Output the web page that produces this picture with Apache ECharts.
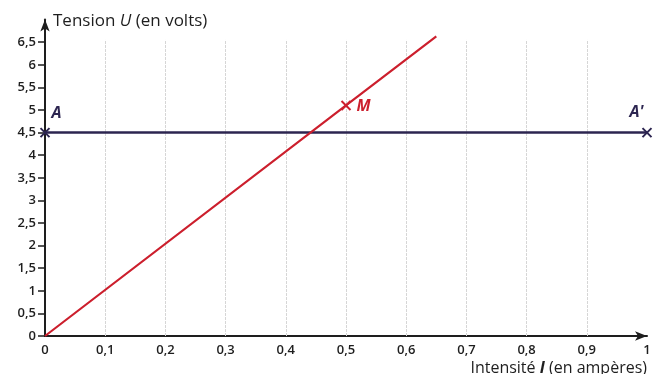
<!DOCTYPE html>
<html>
<head>
<meta charset="utf-8">
<script src="https://cdn.jsdelivr.net/npm/echarts@6/dist/echarts.min.js"></script>
<style>
  html, body { margin: 0; padding: 0; background: #ffffff; }
  #chart { width: 653px; height: 374px; }
</style>
</head>
<body>
<div id="chart"></div>
<script>
// Axis ticks (U in volts, I in amperes)
const uTicks = [0, 0.5, 1, 1.5, 2, 2.5, 3, 3.5, 4, 4.5, 5, 5.5, 6, 6.5];
const iTicks = [0, 0.1, 0.2, 0.3, 0.4, 0.5, 0.6, 0.7, 0.8, 0.9, 1];

// Characteristic of the dipole: U = f(I), straight line through the origin
const lineI = [0, 0.5, 0.65];
const lineU = [0, 5.1, 6.63];

// Horizontal line AA' at U = 4.5 V
const flatI = [0, 1];
const flatU = [4.5, 4.5];

// Named points
const pointNames = ['A', "A'", 'M'];
const pointI = [0, 1, 0.5];
const pointU = [4.5, 4.5, 5.1];

// Vertical guide lines stop a little above the last graduation
const guideTopU = 6.55;

const RED = '#cc1f2d';
const NAVY = '#2c2550';
const INK = '#1e1e1e';
const FONT = 'Open Sans';

const fmt = v => String(v).replace('.', ',');

const chart = echarts.init(document.getElementById('chart'), null, { renderer: 'canvas' });

chart.setOption({
  backgroundColor: '#ffffff',
  animation: false,
  grid: { left: 45, right: 6, top: 19.6, bottom: 38, containLabel: false, outerBoundsMode: 'none' },
  xAxis: {
    type: 'value',
    min: 0,
    max: 1,
    interval: 0.1,
    name: '{n|Intensité }{b|I}{n| (en ampères)}',
    nameLocation: 'end',
    nameGap: 0,
    nameMoveOverlap: false,
    nameTextStyle: {
      align: 'right',
      verticalAlign: 'top',
      padding: [24, 0, 0, 0],
      rich: {
        n: { fontFamily: FONT, fontSize: 16, color: INK, fontWeight: 500 },
        b: { fontFamily: FONT, fontSize: 16, color: INK, fontWeight: 'bold', fontStyle: 'italic' }
      }
    },
    axisLine: {
      show: true,
      lineStyle: { color: INK, width: 2 },
      symbol: ['none', 'arrow'],
      symbolSize: [7, 12],
      symbolOffset: [0, 0]
    },
    axisTick: { show: false },
    axisLabel: {
      customValues: iTicks,
      formatter: fmt,
      fontFamily: FONT,
      fontSize: 13,
      fontWeight: 600,
      color: INK,
      margin: 8
    },
    splitLine: { show: false }
  },
  yAxis: {
    type: 'value',
    min: 0,
    max: 7,
    interval: 0.5,
    name: '{n|Tension }{i|U}{n| (en volts)}',
    nameLocation: 'end',
    nameGap: -2,
    nameMoveOverlap: false,
    nameTextStyle: {
      align: 'left',
      verticalAlign: 'middle',
      padding: [0, 0, 0, 8],
      rich: {
        n: { fontFamily: FONT, fontSize: 17, color: INK, fontWeight: 500 },
        i: { fontFamily: FONT, fontSize: 17, color: INK, fontWeight: 500, fontStyle: 'italic' }
      }
    },
    axisLine: {
      show: true,
      lineStyle: { color: INK, width: 2 },
      symbol: ['none', 'arrow'],
      symbolSize: [7, 12]
    },
    axisTick: {
      show: true,
      customValues: uTicks,
      length: 7,
      lineStyle: { color: INK, width: 1.5 }
    },
    axisLabel: {
      customValues: uTicks,
      formatter: fmt,
      fontFamily: FONT,
      fontSize: 13,
      fontWeight: 600,
      color: INK,
      margin: 9
    },
    splitLine: { show: false }
  },
  series: [
    {
      name: 'AA\'',
      type: 'line',
      data: flatI.map((x, k) => [x, flatU[k]]),
      showSymbol: false,
      lineStyle: { color: NAVY, width: 2.5 },
      z: 3,
      markLine: {
        silent: true,
        symbol: ['none', 'none'],
        label: { show: false },
        lineStyle: { color: '#d6d6d6', width: 1, type: [3, 1] },
        z: 1,
        data: iTicks.slice(1, -1).map(x => [{ coord: [x, 0] }, { coord: [x, guideTopU] }])
      }
    },
    {
      name: 'U(I)',
      type: 'line',
      data: lineI.map((x, k) => [x, lineU[k]]),
      showSymbol: false,
      lineStyle: { color: RED, width: 2.2 },
      z: 4
    },
    {
      name: 'points',
      type: 'scatter',
      data: pointNames.map((n, k) => {
        const c = n === 'M' ? RED : NAVY;
        return {
          name: n,
          value: [pointI[k], pointU[k]],
          itemStyle: { color: c, borderColor: c, opacity: 1 },
          label: {
            color: c,
            position: n === 'M' ? [16, -2] : (n === 'A' ? [12, -22] : [-12, -23])
          }
        };
      }),
      symbol: 'path://M0,0L10,10M10,0L0,10',
      symbolSize: 9,
      itemStyle: { borderWidth: 2, opacity: 1 },
      label: {
        show: true,
        formatter: p => p.name,
        fontFamily: FONT,
        fontSize: 16,
        fontWeight: 700,
        fontStyle: 'italic'
      },
      z: 5
    }
  ]
});
</script>
</body>
</html>
